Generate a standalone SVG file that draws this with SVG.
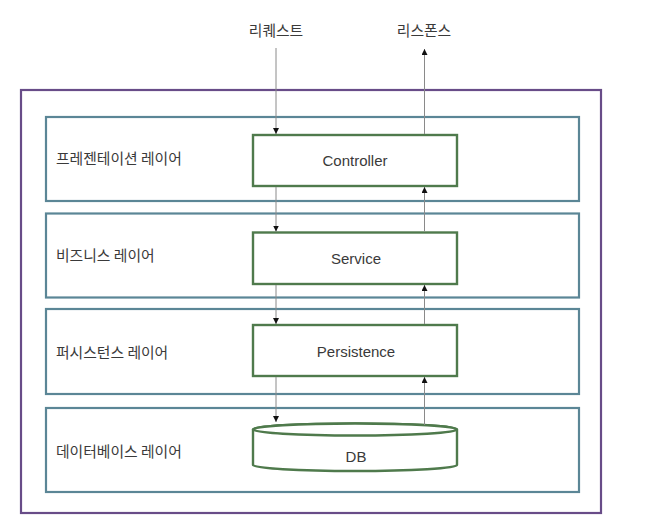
<svg xmlns="http://www.w3.org/2000/svg" width="648" height="526" viewBox="0 0 648 526">
<style>
.outer{fill:none;stroke:#684c88;stroke-width:2.2}
.layer{fill:#fff;stroke:#5b8696;stroke-width:2.2}
.comp{fill:#fff;stroke:#4f7a4c;stroke-width:2.4}
.lbl{font-family:"Noto Sans CJK KR","Noto Sans",sans-serif;font-size:14.8px;fill:#3a3a3a}
.txt{font-family:"Liberation Sans","Noto Sans CJK KR",sans-serif;font-size:15px;fill:#3a3a3a;text-anchor:middle}
.top{font-family:"Noto Sans CJK KR",sans-serif;font-size:14.8px;fill:#3a3a3a;text-anchor:middle}
.ln{stroke:#8a8a8a;stroke-width:1;fill:none}
</style>
<defs>
<marker id="ah" viewBox="0 0 10 10" refX="10" refY="5" markerWidth="6" markerHeight="6" markerUnits="userSpaceOnUse" orient="auto">
<path d="M0,0 L10,5 L0,10 Z" fill="#111"/>
</marker>
</defs>
<rect class="outer" x="21" y="90" width="580" height="423"/>
<g id="layer-presentation">
<rect class="layer" x="46" y="117" width="533" height="84"/>
<text class="lbl" x="56" y="164">프레젠테이션 레이어</text>
</g>
<g id="layer-business">
<rect class="layer" x="46" y="213.5" width="533" height="84"/>
<text class="lbl" x="56" y="261">비즈니스 레이어</text>
</g>
<g id="layer-persistence">
<rect class="layer" x="46" y="309" width="533" height="85"/>
<text class="lbl" x="56" y="358">퍼시스턴스 레이어</text>
</g>
<g id="layer-database">
<rect class="layer" x="46" y="408" width="533" height="84"/>
<text class="lbl" x="56" y="457">데이터베이스 레이어</text>
</g>
<g id="controller">
<rect class="comp" x="253" y="135" width="204" height="51"/>
<text class="txt" x="355" y="165.5">Controller</text>
</g>
<g id="service">
<rect class="comp" x="253" y="232.5" width="204" height="51.5"/>
<text class="txt" x="356" y="264">Service</text>
</g>
<g id="persistence">
<rect class="comp" x="253" y="325" width="204" height="51"/>
<text class="txt" x="356" y="356.5">Persistence</text>
</g>
<g id="db">
<path class="comp" d="M253,429.5 L253,465 A102,6 0 0 0 457,465 L457,429.5 A102,6 0 0 0 253,429.5 Z"/>
<ellipse class="comp" cx="355" cy="429.5" rx="102" ry="6" fill="none"/>
<text class="txt" x="356" y="461.5">DB</text>
</g>
<g id="request-label"><text class="top" x="276" y="36">리퀘스트</text></g>
<g id="response-label"><text class="top" x="424" y="36">리스폰스</text></g>
<g id="connectors">
<line class="ln" x1="276" y1="48" x2="276" y2="134" marker-end="url(#ah)"/>
<line class="ln" x1="276" y1="187" x2="276" y2="231.5" marker-end="url(#ah)"/>
<line class="ln" x1="276" y1="285" x2="276" y2="324" marker-end="url(#ah)"/>
<line class="ln" x1="276" y1="377" x2="276" y2="422" marker-end="url(#ah)"/>
<line class="ln" x1="424.5" y1="425" x2="424.5" y2="377" marker-end="url(#ah)"/>
<line class="ln" x1="424.5" y1="324" x2="424.5" y2="285" marker-end="url(#ah)"/>
<line class="ln" x1="424.5" y1="231.5" x2="424.5" y2="187" marker-end="url(#ah)"/>
<line class="ln" x1="424.5" y1="134" x2="424.5" y2="49" marker-end="url(#ah)"/>
</g>
</svg>
